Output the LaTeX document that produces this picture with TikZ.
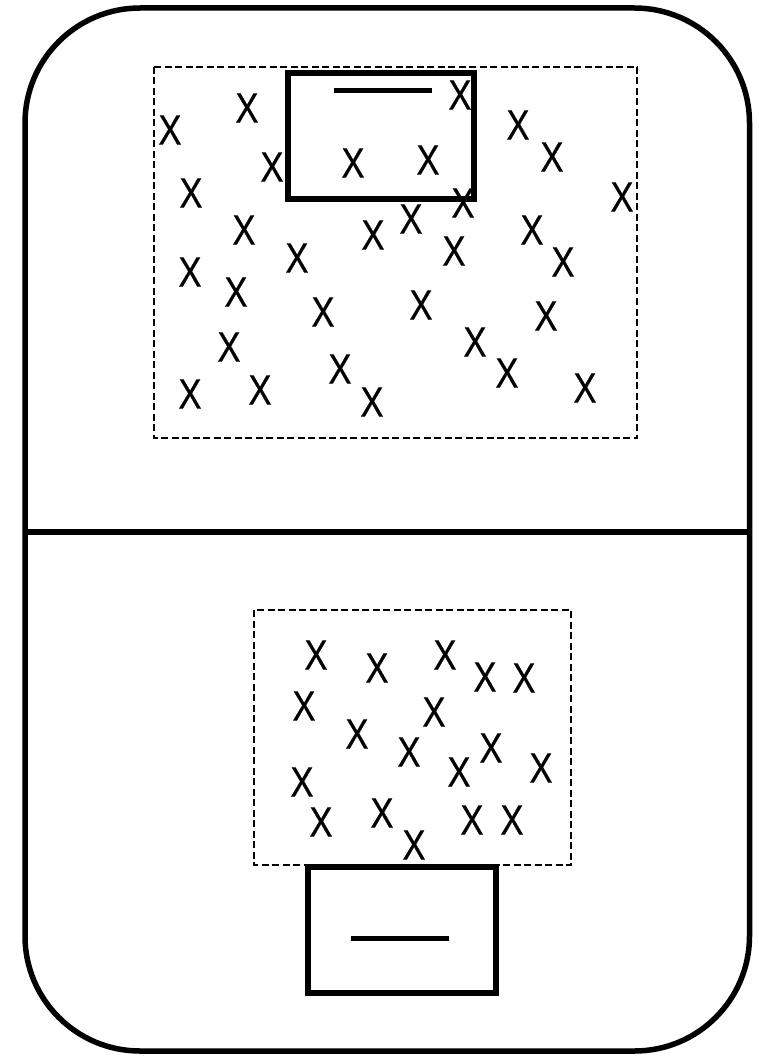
\documentclass[tikz,border=0pt]{standalone}
\usepackage{fontspec}
\setmainfont{Liberation Sans}
\newfontfamily\xfont[FakeBold=0.4]{Liberation Sans}
\usepackage{graphicx}
\begin{document}
\begin{tikzpicture}[x=1pt,y=-1pt,
  outer/.style={line width=5.5pt},
  solidbox/.style={line width=6pt},
  bar/.style={line width=5pt},
  dashbox/.style={line width=1.6pt, dash pattern=on 7pt off 3.5pt},
  xmark/.style={inner sep=0pt, font=\xfont\fontsize{42.5}{50}\selectfont}]
\useasboundingbox (0,0) rectangle (759,1056);
% outer frame
\draw[outer, rounded corners=115pt] (25,8) rectangle (749.5,1051);
\coordinate (divL) at (25,532);
\coordinate (divR) at (749.5,532);
\draw[outer] (divL) -- (divR);
% top region
\draw[dashbox] (154,67) rectangle (637,438);
\foreach \px/\py [count=\i] in {
  170/130, 247/108, 272/167, 353/163, 428/160, 460/95, 518/125, 552/157,
  622/197, 191/193, 244/230, 297/258, 373/235, 411/219, 463/203, 454/251,
  532/230, 563/262, 190/272, 236/292, 323/312, 421/305, 546/316, 229/347,
  190/394, 260/390, 340/369, 372/402, 475/342, 507/373, 585/388}
  \node[xmark] (t\i) at (\px,\py) {\scalebox{0.82}[1]{X}};
\draw[solidbox] (288,73) rectangle (474,199);
\coordinate (tbarL) at (334,91);
\coordinate (tbarR) at (432,91);
\draw[bar] (tbarL) -- (tbarR);
% bottom region
\draw[dashbox] (254,610) rectangle (571,865);
\foreach \px/\py [count=\i] in {
  316/655, 377/668, 445/655, 485/677, 524/678, 304/706, 434/712, 357/734,
  409/752, 491/748, 459/772, 541/768, 302/782, 321/822, 382/813, 472/820,
  512/820, 414/845}
  \node[xmark] (b\i) at (\px,\py) {\scalebox{0.82}[1]{X}};
\draw[solidbox, fill=white] (308,867) rectangle (496,993);
\coordinate (bbarL) at (351,938);
\coordinate (bbarR) at (449,938);
\draw[bar] (bbarL) -- (bbarR);
\end{tikzpicture}
\end{document}
